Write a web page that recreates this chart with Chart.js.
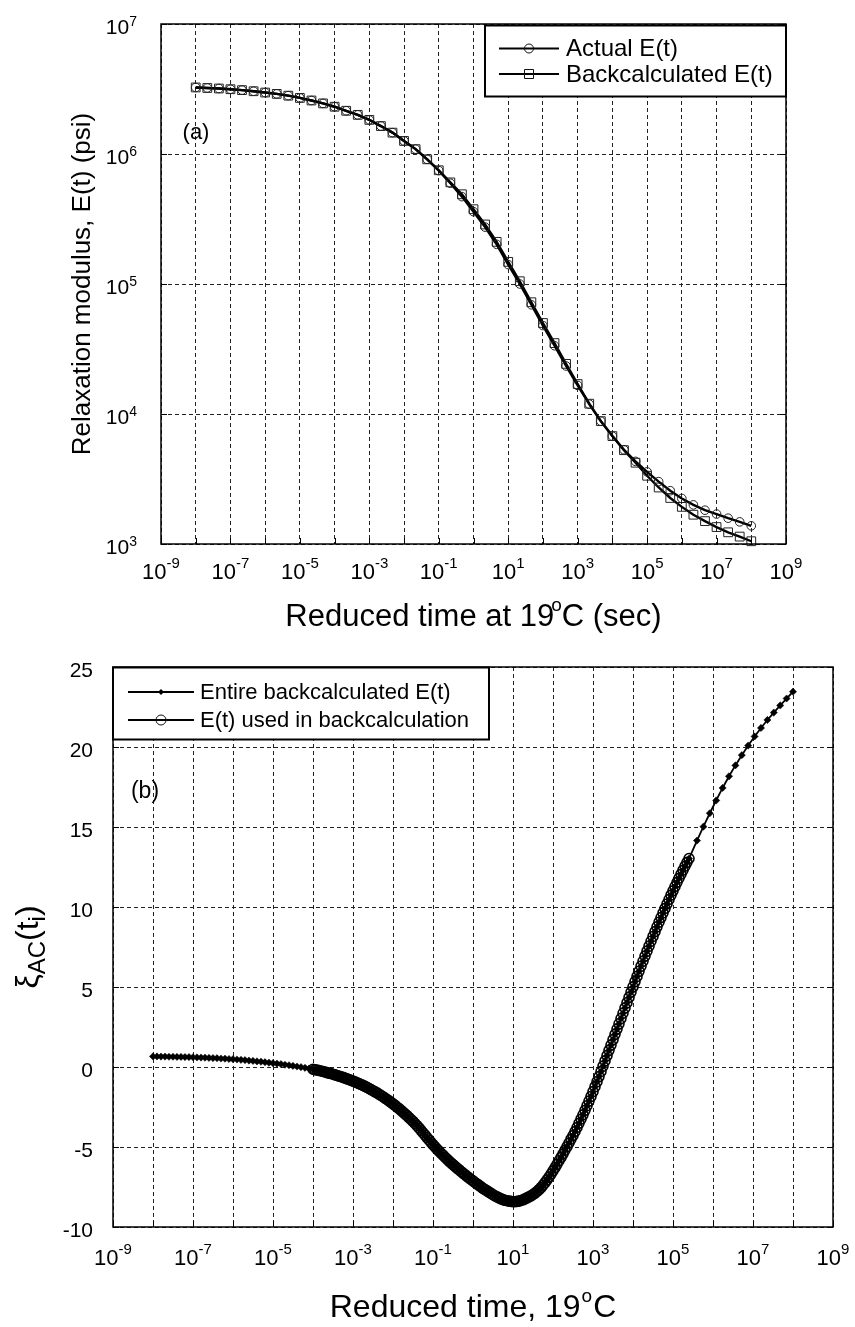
<!DOCTYPE html>
<html>
<head>
<meta charset="utf-8">
<title>Relaxation modulus and backcalculation error</title>
<script src="https://cdn.jsdelivr.net/npm/chart.js@4.4.1/dist/chart.umd.min.js"></script>
<style>
  html, body { margin: 0; padding: 0; background: #fff; }
  #wrap { position: relative; width: 855px; height: 1327px; }
  canvas { position: absolute; left: 0; }
  #panelA { top: 0; }
  #panelB { top: 650px; }
</style>
</head>
<body>
<div id="wrap">
  <canvas id="panelA" width="855" height="650"></canvas>
  <canvas id="panelB" width="855" height="677"></canvas>
</div>
<script>
// ---------- Panel (a): relaxation modulus E(t), psi ----------
// sampling times: every third of a decade from 1e-8 s to 1e8 s (exponents of 10)
const timeExpA = Array.from({ length: 49 }, (_, k) => -8 + k / 3);

const actualE = [
  3.25e6, 3.22e6, 3.19e6, 3.15e6, 3.10e6, 3.04e6, 2.97e6, 2.90e6, 2.81e6, 2.70e6,
  2.58e6, 2.45e6, 2.31e6, 2.15e6, 2.00e6, 1.83e6, 1.64e6, 1.46e6, 1.26e6, 1.09e6,
  9.10e5, 7.45e5, 5.96e5, 4.70e5, 3.60e5, 2.74e5, 2.02e5, 1.41e5, 1.00e5, 6.92e4,
  4.79e4, 3.35e4, 2.34e4, 1.66e4, 1.19e4, 8.81e3, 6.76e3, 5.31e3, 4.32e3, 3.59e3,
  3.02e3, 2.57e3, 2.24e3, 2.00e3, 1.82e3, 1.70e3, 1.58e3, 1.48e3, 1.38e3
];

const backcalcE = [
  3.25e6, 3.22e6, 3.19e6, 3.15e6, 3.10e6, 3.04e6, 2.97e6, 2.90e6, 2.81e6, 2.70e6,
  2.58e6, 2.45e6, 2.31e6, 2.15e6, 2.00e6, 1.83e6, 1.64e6, 1.46e6, 1.26e6, 1.09e6,
  9.10e5, 7.50e5, 6.05e5, 4.90e5, 3.76e5, 2.87e5, 2.11e5, 1.48e5, 1.05e5, 7.24e4,
  5.01e4, 3.51e4, 2.43e4, 1.70e4, 1.20e4, 8.81e3, 6.76e3, 5.27e3, 4.22e3, 3.35e3,
  2.72e3, 2.26e3, 1.93e3, 1.68e3, 1.50e3, 1.35e3, 1.23e3, 1.14e3, 1.05e3
];

// ---------- Panel (b): xi_AC(t_i) ----------
const timeExpEarly = Array.from({ length: 40 }, (_, k) => -8 + k * 0.1);    // 1e-8 .. 1e-4.1
const timeExpUsed  = Array.from({ length: 189 }, (_, k) => -4 + k * 0.05);  // 1e-4 .. 1e5.4
const timeExpLate  = [5.6, 5.76, 5.92, 6.08, 6.24, 6.4, 6.56, 6.72, 6.88, 7.04, 7.2, 7.36, 7.52, 7.68, 7.84, 8.0];

const xiEarly = [
  0.66, 0.66, 0.65, 0.65, 0.64, 0.64, 0.63, 0.63, 0.62, 0.62,
  0.61, 0.60, 0.59, 0.58, 0.57, 0.56, 0.55, 0.53, 0.52, 0.50,
  0.49, 0.47, 0.45, 0.43, 0.40, 0.38, 0.35, 0.33, 0.30, 0.27,
  0.24, 0.21, 0.18, 0.14, 0.11, 0.07, 0.03, -0.01, -0.05, -0.10
];

const xiUsed = [
  -0.14, -0.17, -0.19, -0.22, -0.25, -0.28, -0.31, -0.35, -0.38, -0.41,
  -0.45, -0.49, -0.53, -0.57, -0.61, -0.65, -0.69, -0.74, -0.78, -0.83,
  -0.88, -0.93, -0.98, -1.04, -1.09, -1.15, -1.21, -1.27, -1.34, -1.41,
  -1.48, -1.55, -1.62, -1.70, -1.78, -1.86, -1.94, -2.03, -2.12, -2.21,
  -2.30, -2.40, -2.50, -2.60, -2.71, -2.82, -2.93, -3.04, -3.16, -3.28,
  -3.40, -3.53, -3.67, -3.81, -3.96, -4.11, -4.26, -4.41, -4.56, -4.71,
  -4.85, -4.99, -5.13, -5.26, -5.39, -5.51, -5.64, -5.76, -5.88, -5.99,
  -6.10, -6.21, -6.32, -6.42, -6.53, -6.63, -6.73, -6.83, -6.93, -7.03,
  -7.12, -7.22, -7.31, -7.40, -7.49, -7.58, -7.66, -7.74, -7.82, -7.90,
  -7.98, -8.06, -8.12, -8.18, -8.24, -8.29, -8.33, -8.36, -8.38, -8.40,
  -8.42, -8.42, -8.40, -8.38, -8.34, -8.30, -8.24, -8.18, -8.12, -8.05,
  -7.97, -7.88, -7.78, -7.67, -7.54, -7.39, -7.23, -7.06, -6.88, -6.69,
  -6.49, -6.29, -6.08, -5.86, -5.65, -5.43, -5.20, -4.98, -4.75, -4.51,
  -4.28, -4.03, -3.78, -3.52, -3.26, -2.99, -2.71, -2.42, -2.13, -1.84,
  -1.54, -1.23, -0.92, -0.60, -0.28, 0.05, 0.38, 0.71, 1.04, 1.37,
  1.71, 2.04, 2.37, 2.70, 3.03, 3.36, 3.69, 4.02, 4.35, 4.68,
  5.01, 5.34, 5.66, 5.98, 6.30, 6.61, 6.93, 7.24, 7.55, 7.86,
  8.16, 8.46, 8.76, 9.05, 9.34, 9.63, 9.91, 10.19, 10.47, 10.74,
  11.01, 11.28, 11.54, 11.80, 12.05, 12.30, 12.55, 12.79, 13.03
];

const xiLate = [14.15, 15.02, 15.86, 16.66, 17.44, 18.17, 18.85, 19.49, 20.09, 20.66, 21.19, 21.69, 22.15, 22.60, 23.03, 23.46];

// ---------- ticks ----------
const gridExpX = [-9, -8, -7, -6, -5, -4, -3, -2, -1, 0, 1, 2, 3, 4, 5, 6, 7, 8, 9];
const labelExpX = [-9, -7, -5, -3, -1, 1, 3, 5, 7, 9];
const labelExpYA = [3, 4, 5, 6, 7];
const ticksYB = [-10, -5, 0, 5, 10, 15, 20, 25];

// ---------- drawing helpers ----------
const FAMILY = '"Liberation Sans", Arial, Helvetica, sans-serif';
const font = (s) => s + 'px ' + FAMILY;

function runsWidth(ctx, runs) {
  let w = 0;
  runs.forEach(r => { ctx.font = font(r.size); w += (r.dx || 0) + ctx.measureText(r.text).width; });
  return w;
}
function drawRuns(ctx, runs, x, y) {
  let cx = x;
  ctx.textAlign = 'left';
  ctx.textBaseline = 'alphabetic';
  runs.forEach(r => {
    ctx.font = font(r.size);
    cx += (r.dx || 0);
    ctx.fillText(r.text, cx, y + (r.dy || 0));
    cx += ctx.measureText(r.text).width;
  });
}
function powRuns(exp, size, sup, raise) {
  return [{ text: '10', size: size }, { text: String(exp), size: sup, dy: -raise }];
}

function drawFrame(chart, tickLen) {
  const { ctx, chartArea: a, scales } = chart;
  ctx.save();
  ctx.strokeStyle = '#000';
  ctx.lineWidth = 1;
  ctx.beginPath();
  scales.x.ticks.forEach(t => {
    const px = Math.round(scales.x.getPixelForValue(t.value)) + 0.5;
    ctx.moveTo(px, a.bottom); ctx.lineTo(px, a.bottom - tickLen);
  });
  scales.y.ticks.forEach(t => {
    const py = Math.round(scales.y.getPixelForValue(t.value)) + 0.5;
    ctx.moveTo(a.left, py); ctx.lineTo(a.left + tickLen, py);
    ctx.moveTo(a.right, py); ctx.lineTo(a.right - tickLen, py);
  });
  ctx.stroke();
  ctx.lineWidth = 1.5;
  ctx.strokeRect(a.left, a.top, a.right - a.left, a.bottom - a.top);
  ctx.restore();
}

function marker(ctx, style, x, y, r) {
  ctx.beginPath();
  if (style === 'circle') {
    ctx.arc(x, y, r, 0, Math.PI * 2);
    ctx.stroke();
  } else if (style === 'rect') {
    ctx.rect(x - r, y - r, 2 * r, 2 * r);
    ctx.stroke();
  } else if (style === 'diamond') {
    ctx.moveTo(x, y - r); ctx.lineTo(x + r, y); ctx.lineTo(x, y + r); ctx.lineTo(x - r, y);
    ctx.closePath();
    ctx.fill();
  }
}

function drawLegend(ctx, box, rows, lineX0, lineX1, textX, size) {
  ctx.save();
  ctx.fillStyle = '#fff';
  ctx.fillRect(box.x, box.y, box.w, box.h);
  ctx.strokeStyle = '#000';
  ctx.lineWidth = 2;
  ctx.strokeRect(box.x, box.y, box.w, box.h);
  rows.forEach(row => {
    ctx.strokeStyle = '#000';
    ctx.lineWidth = row.lineWidth;
    ctx.beginPath();
    ctx.moveTo(lineX0, row.y); ctx.lineTo(lineX1, row.y);
    ctx.stroke();
    ctx.lineWidth = 1;
    ctx.strokeStyle = '#111';
    ctx.fillStyle = '#000';
    marker(ctx, row.style, (lineX0 + lineX1) / 2, row.y, row.r);
    ctx.fillStyle = '#000';
    ctx.font = font(size);
    ctx.textAlign = 'left';
    ctx.textBaseline = 'middle';
    ctx.fillText(row.text, textX, row.y + 1);
  });
  ctx.restore();
}

// ---------- panel (a) decorations ----------
const panelADecor = {
  id: 'panelADecor',
  afterDraw(chart) {
    const { ctx, chartArea: a, scales } = chart;
    drawFrame(chart, 6);
    ctx.save();
    ctx.fillStyle = '#000';
    // y tick labels
    labelExpYA.forEach(e => {
      const py = scales.y.getPixelForValue(Math.pow(10, e));
      const runs = powRuns(e, 21, 14, 8);
      drawRuns(ctx, runs, 137 - runsWidth(ctx, runs), py + 10);
    });
    // x tick labels
    labelExpX.forEach(e => {
      const px = scales.x.getPixelForValue(Math.pow(10, e));
      const runs = powRuns(e, 22, 15, 11);
      drawRuns(ctx, runs, px - runsWidth(ctx, runs) / 2, a.bottom + 35);
    });
    // x axis title
    const title = [
      { text: 'Reduced time at 19', size: 31 },
      { text: 'o', size: 19, dy: -15, dx: -3 },
      { text: 'C (sec)', size: 31 }
    ];
    drawRuns(ctx, title, (a.left + a.right) / 2 - runsWidth(ctx, title) / 2, 626);
    // y axis title
    ctx.save();
    ctx.translate(90, (a.top + a.bottom) / 2);
    ctx.rotate(-Math.PI / 2);
    ctx.font = font(26);
    ctx.textAlign = 'center';
    ctx.textBaseline = 'alphabetic';
    ctx.fillText('Relaxation modulus, E(t) (psi)', 0, 0);
    ctx.restore();
    // panel tag
    ctx.font = font(22);
    ctx.textAlign = 'center';
    ctx.textBaseline = 'middle';
    ctx.fillText('(a)', 196, 133);
    ctx.restore();
    drawLegend(ctx, { x: 485, y: 25.5, w: a.right - 485, h: 71 }, [
      { y: 48.5, style: 'circle', r: 4.5, lineWidth: 2, text: 'Actual E(t)' },
      { y: 74, style: 'rect', r: 4.5, lineWidth: 2, text: 'Backcalculated E(t)' }
    ], 499, 559, 566, 24);
  }
};

// ---------- panel (b) decorations ----------
const panelBDecor = {
  id: 'panelBDecor',
  afterDraw(chart) {
    const { ctx, chartArea: a, scales } = chart;
    drawFrame(chart, 6);
    ctx.save();
    ctx.fillStyle = '#000';
    // y tick labels
    ctx.font = font(21);
    ctx.textAlign = 'right';
    ctx.textBaseline = 'alphabetic';
    ticksYB.forEach(v => {
      const py = scales.y.getPixelForValue(v);
      ctx.fillText(String(v), 93, py + 10);
    });
    // x tick labels
    labelExpX.forEach(e => {
      const px = scales.x.getPixelForValue(Math.pow(10, e));
      const runs = powRuns(e, 22, 15, 11);
      drawRuns(ctx, runs, px - runsWidth(ctx, runs) / 2, a.bottom + 38);
    });
    // x axis title
    const title = [
      { text: 'Reduced time, 19', size: 32 },
      { text: 'o', size: 19, dy: -15, dx: 1 },
      { text: 'C', size: 32, dx: 1 }
    ];
    drawRuns(ctx, title, (a.left + a.right) / 2 - runsWidth(ctx, title) / 2, 667);
    // y axis title: xi_AC(t_i)
    const ylab = [
      { text: 'ξ', size: 32 },
      { text: 'AC', size: 24, dy: 7 },
      { text: '(t', size: 32 },
      { text: 'i', size: 24, dy: 7 },
      { text: ')', size: 32 }
    ];
    ctx.save();
    ctx.translate(38, (a.top + a.bottom) / 2);
    ctx.rotate(-Math.PI / 2);
    drawRuns(ctx, ylab, -runsWidth(ctx, ylab) / 2, 0);
    ctx.restore();
    // panel tag
    ctx.font = font(23);
    ctx.textAlign = 'center';
    ctx.textBaseline = 'middle';
    ctx.fillText('(b)', 145, 142);
    ctx.restore();
    drawLegend(ctx, { x: a.left, y: a.top + 0.5, w: 489 - a.left, h: 72 }, [
      { y: 42, style: 'diamond', r: 3, lineWidth: 2, text: 'Entire backcalculated E(t)' },
      { y: 70, style: 'circle', r: 5, lineWidth: 2, text: 'E(t) used in backcalculation' }
    ], 128, 194, 200, 22);
  }
};

const logTicks = (exps) => (axis) => { axis.ticks = exps.map(e => ({ value: Math.pow(10, e) })); };
const gridStyle = { color: '#222', lineWidth: 1, drawTicks: false };
const borderStyle = { display: false, dash: [4, 3] };

// ---------- panel (a) chart ----------
new Chart(document.getElementById('panelA'), {
  type: 'line',
  data: {
    datasets: [
      {
        label: 'Actual E(t)',
        data: timeExpA.map((e, i) => ({ x: Math.pow(10, e), y: actualE[i] })),
        borderColor: '#000', borderWidth: 2.4, tension: 0, fill: false, clip: false,
        pointStyle: 'circle', pointRadius: 4.3, pointBorderWidth: 1,
        pointBorderColor: '#222', pointBackgroundColor: 'rgba(255,255,255,0)'
      },
      {
        label: 'Backcalculated E(t)',
        data: timeExpA.map((e, i) => ({ x: Math.pow(10, e), y: backcalcE[i] })),
        borderColor: '#000', borderWidth: 2.4, tension: 0, fill: false, clip: false,
        pointStyle: 'rect', pointRadius: 6.2, pointBorderWidth: 1,
        pointBorderColor: '#222', pointBackgroundColor: 'rgba(255,255,255,0)'
      }
    ]
  },
  options: {
    responsive: false, animation: false, devicePixelRatio: 1, events: [],
    layout: { padding: { left: 161, right: 69, top: 24, bottom: 106 } },
    plugins: { legend: { display: false }, tooltip: { enabled: false } },
    scales: {
      x: {
        type: 'logarithmic', min: 1e-9, max: 1e9,
        afterBuildTicks: logTicks(gridExpX),
        ticks: { display: false }, grid: gridStyle, border: borderStyle
      },
      y: {
        type: 'logarithmic', min: 1e3, max: 1e7,
        afterBuildTicks: logTicks(labelExpYA),
        ticks: { display: false }, grid: gridStyle, border: borderStyle
      }
    }
  },
  plugins: [panelADecor]
});

// ---------- panel (b) chart ----------
const toPoints = (exps, vals) => exps.map((e, i) => ({ x: Math.pow(10, e), y: vals[i] }));

new Chart(document.getElementById('panelB'), {
  type: 'line',
  data: {
    datasets: [
      {
        label: 'Entire backcalculated E(t)',
        data: toPoints(timeExpEarly, xiEarly)
          .concat(toPoints(timeExpUsed, xiUsed))
          .concat(toPoints(timeExpLate, xiLate)),
        borderColor: '#000', borderWidth: 1.8, tension: 0, fill: false, clip: false,
        pointStyle: 'rectRot', pointRadius: 3.6, pointBorderWidth: 0.5,
        pointBorderColor: '#000', pointBackgroundColor: '#000'
      },
      {
        label: 'E(t) used in backcalculation',
        data: toPoints(timeExpUsed, xiUsed),
        borderColor: '#000', borderWidth: 1, tension: 0, fill: false, clip: false,
        pointStyle: 'circle', pointRadius: 5, pointBorderWidth: 1.6,
        pointBorderColor: '#000', pointBackgroundColor: 'rgba(255,255,255,0)'
      }
    ]
  },
  options: {
    responsive: false, animation: false, devicePixelRatio: 1, events: [],
    layout: { padding: { left: 113, right: 22, top: 17, bottom: 100 } },
    plugins: { legend: { display: false }, tooltip: { enabled: false } },
    scales: {
      x: {
        type: 'logarithmic', min: 1e-9, max: 1e9,
        afterBuildTicks: logTicks(gridExpX),
        ticks: { display: false }, grid: gridStyle, border: borderStyle
      },
      y: {
        type: 'linear', min: -10, max: 25,
        afterBuildTicks: (axis) => { axis.ticks = ticksYB.map(v => ({ value: v })); },
        ticks: { display: false }, grid: gridStyle, border: borderStyle
      }
    }
  },
  plugins: [panelBDecor]
});
</script>
</body>
</html>
